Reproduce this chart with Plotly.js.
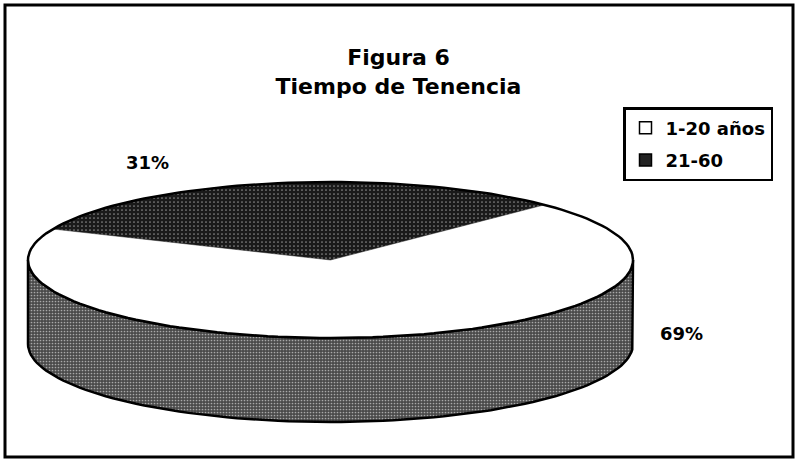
<!DOCTYPE html>
<html>
<head>
<meta charset="utf-8">
<script src="https://cdn.plot.ly/plotly-3.0.1.min.js"></script>
<style>
  html, body { margin: 0; padding: 0; background: #fff; }
  #chart { width: 797px; height: 459px; }
</style>
</head>
<body>
<div id="chart"></div>
<script>
// data
var categories = ["1-20 años", "21-60"];
var values = [69, 31];
var sliceColors = ["#ffffff", "#232323"];
var sideColor = "#575757";

// pie geometry (pixels, y down)
var cx = 330.5, cy = 260, rx = 302.5, ry = 78, depth = 84;
var startAngle = 45; // first slice starts here and runs clockwise

function pt(deg, dy) {
    var r = deg * Math.PI / 180;
    return [cx + rx * Math.cos(r), cy - ry * Math.sin(r) + (dy || 0)];
}

function arc(from, to, dy) {
    var xs = [], ys = [];
    var n = Math.max(2, Math.ceil(Math.abs(to - from) / 2));
    for (var i = 0; i <= n; i++) {
        var p = pt(from + (to - from) * i / n, dy);
        xs.push(p[0]);
        ys.push(p[1]);
    }
    return [xs, ys];
}

var total = values.reduce(function (s, v) { return s + v; }, 0);
var traces = [];

// front side of the pie (visible between 180 and 360 degrees)
var topFront = arc(180, 360, 0);
var botFront = arc(360, 180, depth);
traces.push({
    x: topFront[0].concat(botFront[0], [topFront[0][0]]),
    y: topFront[1].concat(botFront[1], [topFront[1][0]]),
    type: "scatter", mode: "lines", fill: "toself",
    fillcolor: sideColor,
    fillpattern: { shape: ".", bgcolor: "#4a4a4a", fgcolor: "#a8a8a8", size: 3, solidity: 0.25 },
    line: { color: "black", width: 2.5 },
    showlegend: false, hoverinfo: "skip"
});

// top faces of the slices
var a0 = startAngle;
for (var i = 0; i < values.length; i++) {
    var sweep = values[i] / total * 360;
    var a1 = a0 - sweep;
    var ar = arc(a0, a1, 0);
    var tr = {
        x: [cx].concat(ar[0], [cx]),
        y: [cy].concat(ar[1], [cy]),
        type: "scatter", mode: "lines", fill: "toself",
        fillcolor: sliceColors[i],
        line: { color: sliceColors[i], width: 0.5 },
        showlegend: false, hoverinfo: "skip"
    };
    if (i == 1) {
        tr.fillpattern = { shape: ".", bgcolor: "#1a1a1a", fgcolor: "#8a8a8a", size: 4, solidity: 0.15 };
    }
    traces.push(tr);
    a0 = a1;
}

// rim of the top face
var rim = arc(0, 360, 0);
traces.push({
    x: rim[0], y: rim[1],
    type: "scatter", mode: "lines",
    line: { color: "black", width: 2.5 },
    showlegend: false, hoverinfo: "skip"
});

// legend entries
for (var j = 0; j < categories.length; j++) {
    traces.push({
        x: [null], y: [null],
        name: categories[j],
        legendgroup: "g" + j,
        type: "scatter", mode: "markers",
        marker: { symbol: "square", size: 12, color: sliceColors[j],
                  line: { color: "black", width: 1.5 } }
    });
}

var labelFont = { family: "DejaVu Sans", size: 18, color: "black", weight: "bold" };

var layout = {
    width: 797, height: 459,
    margin: { l: 0, r: 0, t: 0, b: 0 },
    paper_bgcolor: "white", plot_bgcolor: "white",
    title: {
        text: "Figura 6<br>Tiempo de Tenencia",
        x: 0.5, xanchor: "center",
        y: 0.858, yanchor: "top",
        font: { family: "DejaVu Sans", size: 22, color: "black", weight: "bold" }
    },
    xaxis: { range: [0, 797], visible: false, fixedrange: true },
    yaxis: { range: [459, 0], visible: false, fixedrange: true },
    showlegend: true,
    legend: {
        x: 623 / 797, xanchor: "left",
        y: 1 - 107 / 459, yanchor: "top",
        bordercolor: "black", borderwidth: 2.5,
        bgcolor: "white",
        tracegroupgap: 6,
        font: labelFont
    },
    annotations: [
        { x: 147, y: 162, xref: "x", yref: "y", text: values[1] + "%",
          showarrow: false, font: labelFont },
        { x: 681, y: 333, xref: "x", yref: "y", text: values[0] + "%",
          showarrow: false, font: labelFont }
    ],
    shapes: [
        { type: "rect", xref: "paper", yref: "paper",
          x0: 5 / 797, x1: 793 / 797, y0: 1 - 457 / 459, y1: 1 - 5 / 459,
          line: { color: "black", width: 3 } }
    ]
};

Plotly.newPlot("chart", traces, layout, { displayModeBar: false, staticPlot: true });
</script>
</body>
</html>
